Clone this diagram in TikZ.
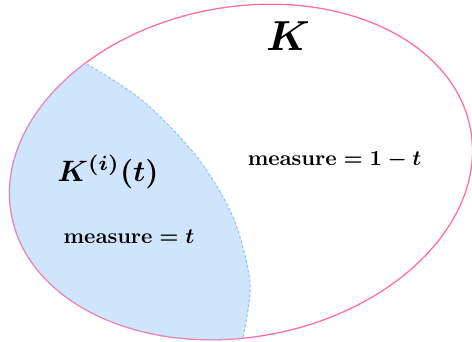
\documentclass[tikz,border=0pt]{standalone}
\usepackage{amsmath}
\usepackage{graphicx}
\definecolor{pinkline}{HTML}{FF6FA0}
\definecolor{bluefill}{HTML}{9FCBF9}
\definecolor{bluedash}{HTML}{92C6FB}
\tikzset{
  lbl/.style={inner sep=0pt, text=black},
  outerset/.style={rotate around={10.6:(c)}},
}
\newcommand{\bm}[2]{\scalebox{#1}{\boldmath$#2$}}
\begin{document}
\begin{tikzpicture}[x=1pt,y=-1pt]
\useasboundingbox (0,0) rectangle (472,341);
\coordinate (c) at (241,172);
% outer set K
\draw[pinkline, line width=1.3pt, outerset] (c) ellipse [x radius=233.5, y radius=165];
% shaded subset
\begin{scope}
  \clip[outerset] (c) ellipse [x radius=233.5, y radius=165];
  \fill[bluefill, fill opacity=0.5] plot[smooth] coordinates {(70,52) (87,64) (143,101) (197,157) (233,217) (250,283) (243,337) (238,360)} -- (-20,360) -- (-20,-20) -- cycle;
\end{scope}
\draw[bluedash, line width=1.1pt, dash pattern=on 3pt off 2pt] plot[smooth] coordinates {(87,64) (143,101) (197,157) (233,217) (250,283) (243,337)};
% labels
\node[lbl] (kk) at (288,36) {\bm{4.2}{K}};
\node[lbl] (ki) at (108,172) {\bm{2.95}{K^{(i)}(t)}};
\node[lbl] (m1) at (334.5,160) {\bm{2.15}{\mathbf{measure}=1-t}};
\node[lbl] (m2) at (129,237) {\bm{2.15}{\mathbf{measure}=t}};
\end{tikzpicture}
\end{document}
